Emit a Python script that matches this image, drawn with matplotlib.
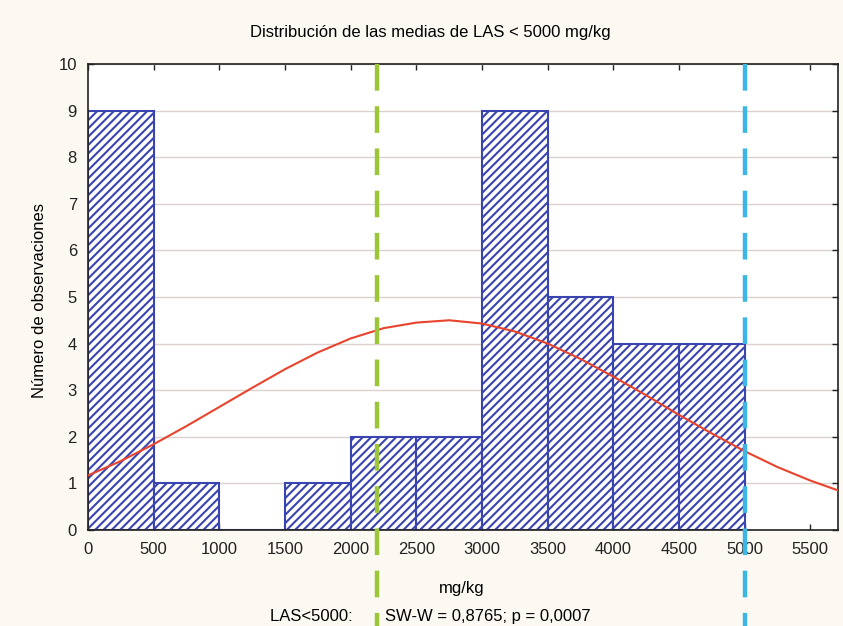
import matplotlib
matplotlib.use("Agg")
import matplotlib.pyplot as plt

plt.rcParams['font.family'] = ['Liberation Sans', 'DejaVu Sans']
plt.rcParams['hatch.linewidth'] = 1.5
plt.rcParams['hatch.color'] = '#3d3f96'

bin_edges = [0, 500, 1000, 1500, 2000, 2500, 3000, 3500, 4000, 4500, 5000]
counts = [9, 1, 0, 1, 2, 2, 9, 5, 4, 4]

curve_x = [0, 250, 500, 750, 1000, 1250, 1500, 1750, 2000, 2250, 2500, 2750,
           3000, 3250, 3500, 3750, 4000, 4250, 4500, 4750, 5000, 5250, 5500, 5750]
curve_y = [1.17, 1.48, 1.84, 2.23, 2.64, 3.05, 3.45, 3.81, 4.11, 4.33, 4.45, 4.50,
           4.43, 4.26, 4.00, 3.67, 3.29, 2.89, 2.47, 2.07, 1.69, 1.35, 1.06, 0.81]

green_line_x = 2200
blue_line_x = 5000

x_ticks = [0, 500, 1000, 1500, 2000, 2500, 3000, 3500, 4000, 4500, 5000, 5500]
y_ticks = [0, 1, 2, 3, 4, 5, 6, 7, 8, 9, 10]

fig = plt.figure(figsize=(8.43, 6.26), dpi=100, facecolor='#fbf9f2')
ax = fig.add_axes([0.1044, 0.1534, 0.8896, 0.7444])
ax.set_facecolor('white')

lefts = bin_edges[:-1]
widths = [b - a for a, b in zip(bin_edges[:-1], bin_edges[1:])]
ax.bar(lefts, counts, width=widths, align='edge', facecolor='white',
       edgecolor='#3a44b0', linewidth=1.5, hatch='////', zorder=2)

ax.plot(curve_x, curve_y, color='#e8432c', linewidth=1.5, zorder=3)

ax.set_xlim(0, 5710)
ax.set_ylim(0, 10)
ax.set_xticks(x_ticks)
ax.set_yticks(y_ticks)
ax.yaxis.grid(True, color='#dbd2cf', linewidth=1.0, zorder=0)
ax.set_axisbelow(True)
ax.tick_params(direction='in', top=True, right=True, length=4, width=1,
               labelsize=12, colors='#222222')
ax.tick_params(axis='x', pad=9)
ax.tick_params(axis='y', pad=8)
for s in ax.spines.values():
    s.set_color('#222222')
    s.set_linewidth(1.2)

# vertical dashed reference lines extending below the axes
for xv, col in [(green_line_x, '#9cc63a'), (blue_line_x, '#3db6e6')]:
    ax.plot([xv, xv], [10, -2.05], color=col, linewidth=3.2,
            linestyle=(0, (6, 3.5)), clip_on=False, zorder=5)

fig.text(0.511, 1 - 33 / 626, 'Distribución de las medias de LAS < 5000 mg/kg',
         ha='center', va='center', fontsize=12)
fig.text(40 / 843, 1 - 300 / 626, 'Número de observaciones', rotation=90,
         ha='center', va='center', fontsize=12)
fig.text(462 / 843, 1 - 588 / 626, 'mg/kg', ha='center', va='center', fontsize=12)
fig.text(270 / 843, 1 - 616 / 626, 'LAS<5000:       SW-W = 0,8765; p = 0,0007',
         ha='left', va='center', fontsize=12)

fig.savefig('out.png', dpi=100, facecolor=fig.get_facecolor())
